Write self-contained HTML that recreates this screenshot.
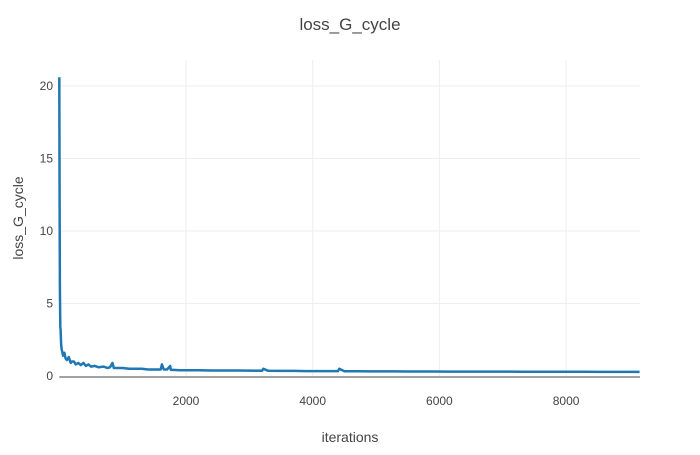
<!DOCTYPE html>
<html><head><meta charset="utf-8"><style>
body{margin:0;background:#fff;font-family:"Liberation Sans",sans-serif;}
svg text{font-family:"Liberation Sans",sans-serif;fill:#444;}
</style></head><body>
<svg id="chart" width="700" height="450">
<text x="350" y="30" text-anchor="middle" font-size="17">loss_G_cycle</text>
<g id="grid"></g><g id="series"></g><g id="axes"></g>
<text x="350" y="442" text-anchor="middle" font-size="14">iterations</text>
<text transform="translate(23,218) rotate(-90)" text-anchor="middle" font-size="14">loss_G_cycle</text>
</svg>
<script>
const xTicks=[2000,4000,6000,8000];
const yTicks=[0,5,10,15,20];
const iterations=[0,5,10,15,20,30,40,60,80,100,120,150,180,200,230,260,300,340,380,420,460,500,560,620,700,760,800,840,860,900,1000,1100,1200,1300,1400,1500,1600,1620,1650,1700,1750,1760,1800,1900,2000,2200,2400,2600,2800,3000,3200,3220,3300,3500,3700,3900,4100,4300,4400,4420,4500,4700,4900,5100,5300,5500,5700,5900,6100,6300,6500,6700,6900,7100,7300,7500,7700,7900,8100,8300,8500,8700,8900,9160];
const loss=[20.6,12,6,3.4,3.2,2.1,1.8,1.4,1.6,1.2,1.1,1.3,0.9,1.0,1.0,0.8,0.9,0.75,0.9,0.7,0.8,0.65,0.7,0.6,0.65,0.55,0.6,0.9,0.55,0.55,0.55,0.5,0.5,0.5,0.45,0.45,0.45,0.8,0.45,0.45,0.7,0.42,0.42,0.4,0.4,0.4,0.38,0.38,0.38,0.37,0.36,0.5,0.36,0.35,0.35,0.34,0.34,0.34,0.34,0.5,0.33,0.33,0.32,0.32,0.32,0.31,0.31,0.31,0.3,0.3,0.3,0.3,0.3,0.3,0.29,0.29,0.29,0.29,0.29,0.29,0.28,0.28,0.28,0.28];
const X0=59.3,X1=640,Y0=376,Y1=60,xMax=9167,yPer=14.5;
const sx=v=>X0+v/xMax*(X1-X0);
const sy=v=>Y0-v*yPer;
const NS="http://www.w3.org/2000/svg";
const grid=document.getElementById('grid'),axes=document.getElementById('axes'),series=document.getElementById('series');
xTicks.forEach(t=>{
 const l=document.createElementNS(NS,'line');
 l.setAttribute('x1',sx(t));l.setAttribute('x2',sx(t));l.setAttribute('y1',Y1);l.setAttribute('y2',Y0);
 l.setAttribute('stroke','#eee');
 
 
 grid.appendChild(l);
 const tx=document.createElementNS(NS,'text');
 tx.setAttribute('x',sx(t));tx.setAttribute('y',405);tx.setAttribute('text-anchor','middle');tx.setAttribute('font-size','12');
 tx.textContent=t;
 
 
 axes.appendChild(tx);
});
yTicks.forEach(t=>{
 if(t>0){const l=document.createElementNS(NS,'line');
 l.setAttribute('x1',X0);l.setAttribute('x2',X1);l.setAttribute('y1',sy(t));l.setAttribute('y2',sy(t));
 l.setAttribute('stroke','#eee');
 
 
 grid.appendChild(l);}
 const tx=document.createElementNS(NS,'text');
 tx.setAttribute('x',53);tx.setAttribute('y',sy(t)+4);tx.setAttribute('text-anchor','end');tx.setAttribute('font-size','12');
 tx.textContent=t;
 
 
 axes.appendChild(tx);
});
const zl=document.createElementNS(NS,'line');
zl.setAttribute('x1',X0);zl.setAttribute('x2',X1);zl.setAttribute('y1',Y0+1);zl.setAttribute('y2',Y0+1);
zl.setAttribute('stroke','#444');


axes.appendChild(zl);
const p=document.createElementNS(NS,'path');
p.setAttribute('d',iterations.map((x,i)=>(i?'L':'M')+sx(x).toFixed(1)+','+sy(loss[i]).toFixed(1)).join(''));
p.setAttribute('fill','none');p.setAttribute('stroke','#1f77b4');p.setAttribute('stroke-width','2.5');p.setAttribute('stroke-linejoin','round');


series.appendChild(p);
</script>
</body></html>
